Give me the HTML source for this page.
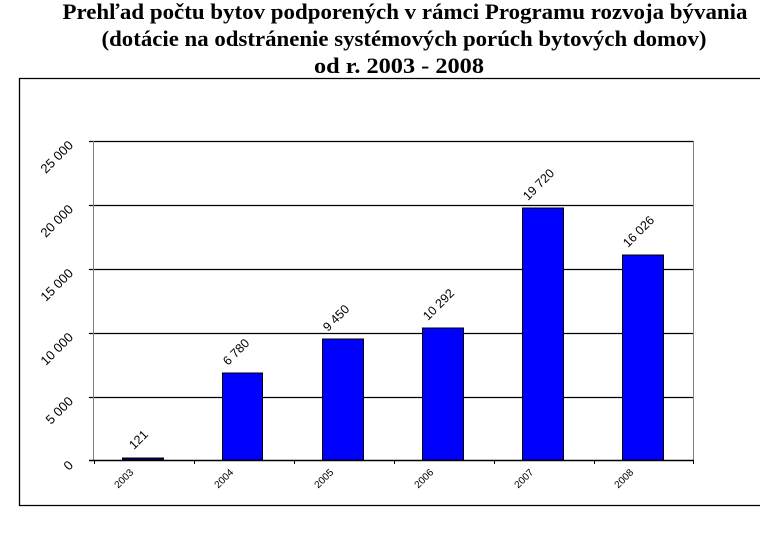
<!DOCTYPE html>
<html><head><meta charset="utf-8"><style>
body{margin:0;background:#fff;}
</style></head><body>
<svg width="780" height="541" xmlns="http://www.w3.org/2000/svg" style="display:block">
<g font-family="Liberation Serif, serif" font-weight="bold" font-size="22" text-anchor="middle" fill="#000">
<text x="405" y="19" textLength="685" lengthAdjust="spacingAndGlyphs">Prehľad počtu bytov podporených v rámci Programu rozvoja bývania</text>
<text x="404" y="46" textLength="605" lengthAdjust="spacingAndGlyphs">(dotácie na odstránenie systémových porúch bytových domov)</text>
<text x="399" y="73" textLength="170" lengthAdjust="spacingAndGlyphs">od r. 2003 - 2008</text>
</g>
<polyline points="760,78.5 19.5,78.5 19.5,505.5 760,505.5" fill="none" stroke="#000" stroke-width="1.3"/>
<g stroke="#000" stroke-width="1.2">
<line x1="89" y1="141.5" x2="694" y2="141.5"/>
<line x1="89" y1="205.5" x2="694" y2="205.5"/>
<line x1="89" y1="269.5" x2="694" y2="269.5"/>
<line x1="89" y1="333.5" x2="694" y2="333.5"/>
<line x1="89" y1="397.5" x2="694" y2="397.5"/>
</g>
<line x1="93.5" y1="141" x2="93.5" y2="460" stroke="#808080"/>
<line x1="693.5" y1="141" x2="693.5" y2="460" stroke="#808080"/>
<g fill="#0000ff" stroke="#000" stroke-width="1">
<rect x="122.5" y="458" width="41" height="2" fill="#000080"/>
<rect x="222.5" y="373" width="40" height="87"/>
<rect x="322.5" y="339" width="41" height="121"/>
<rect x="422.5" y="328" width="41" height="132"/>
<rect x="522.5" y="208" width="41" height="252"/>
<rect x="622.5" y="255" width="41" height="205"/>
</g>
<line x1="89" y1="460.5" x2="694" y2="460.5" stroke="#000" stroke-width="1.5"/>
<g stroke="#000">
<line x1="94.5" y1="460" x2="94.5" y2="464"/><line x1="194.5" y1="460" x2="194.5" y2="464"/>
<line x1="294.5" y1="460" x2="294.5" y2="464"/><line x1="394.5" y1="460" x2="394.5" y2="464"/>
<line x1="494.5" y1="460" x2="494.5" y2="464"/><line x1="594.5" y1="460" x2="594.5" y2="464"/>
<line x1="693.5" y1="460" x2="693.5" y2="464"/>
</g>
<g font-family="Liberation Sans, sans-serif" font-size="13" fill="#000" text-anchor="end">
<text transform="translate(74,146) rotate(-45)">25 000</text>
<text transform="translate(74,210) rotate(-45)">20 000</text>
<text transform="translate(74,274) rotate(-45)">15 000</text>
<text transform="translate(74,338) rotate(-45)">10 000</text>
<text transform="translate(74,402) rotate(-45)">5 000</text>
<text transform="translate(74,466) rotate(-45)">0</text>
</g>
<g font-family="Liberation Sans, sans-serif" font-size="10" fill="#000" text-anchor="end">
<text transform="translate(134,473) rotate(-45)">2003</text>
<text transform="translate(234,473) rotate(-45)">2004</text>
<text transform="translate(334,473) rotate(-45)">2005</text>
<text transform="translate(434,473) rotate(-45)">2006</text>
<text transform="translate(534,473) rotate(-45)">2007</text>
<text transform="translate(634,473) rotate(-45)">2008</text>
</g>
<g font-family="Liberation Sans, sans-serif" font-size="12.5" fill="#000" text-anchor="start">
<text transform="translate(134,450) rotate(-45)">121</text>
<text transform="translate(228,366) rotate(-45)">6 780</text>
<text transform="translate(328,332) rotate(-45)">9 450</text>
<text transform="translate(428,321) rotate(-45)">10 292</text>
<text transform="translate(528,201) rotate(-45)">19 720</text>
<text transform="translate(628,248) rotate(-45)">16 026</text>
</g>
</svg>
</body></html>
